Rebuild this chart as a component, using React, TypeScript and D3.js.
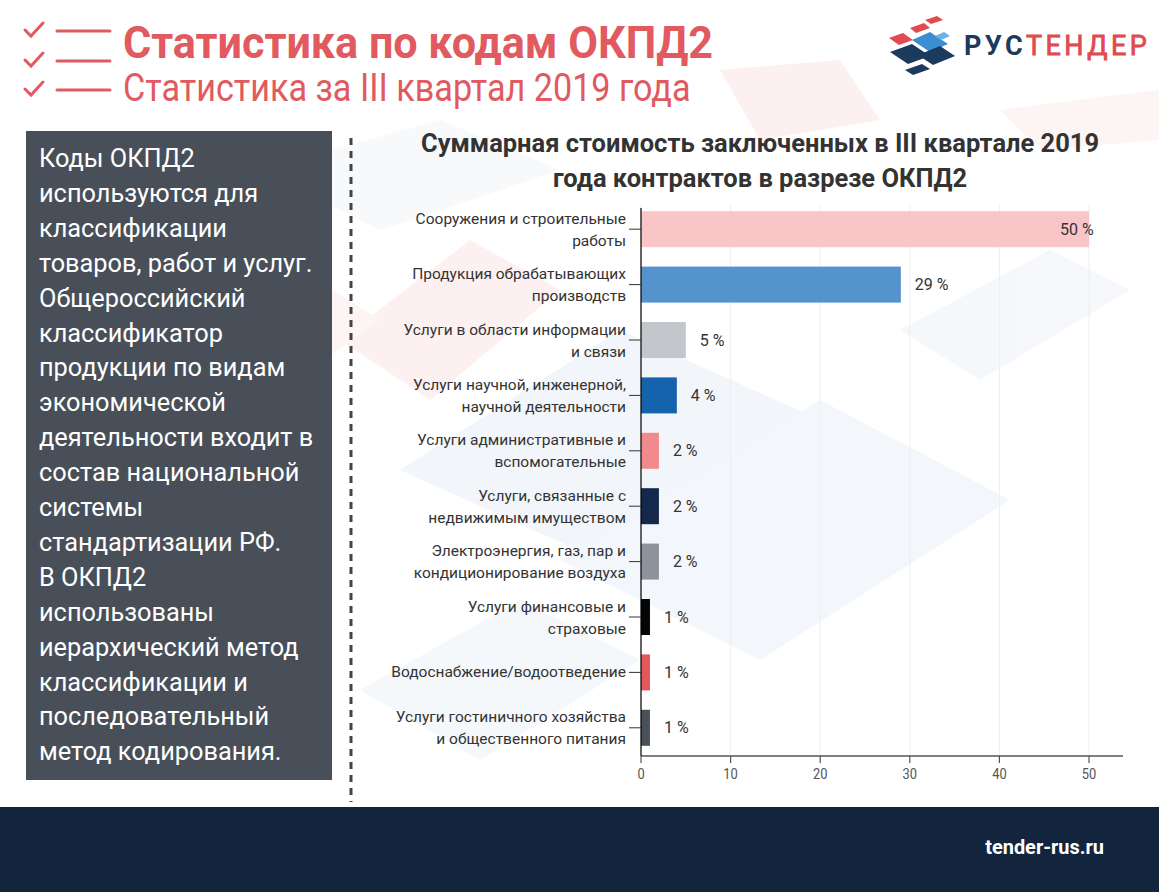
import React from "react";
import * as d3 from "d3";

const categories: string[][] = [
  ["Сооружения и строительные", "работы"],
  ["Продукция обрабатывающих", "производств"],
  ["Услуги в области информации", "и связи"],
  ["Услуги научной, инженерной,", "научной деятельности"],
  ["Услуги административные и", "вспомогательные"],
  ["Услуги, связанные с", "недвижимым имуществом"],
  ["Электроэнергия, газ, пар и", "кондиционирование воздуха"],
  ["Услуги финансовые и", "страховые"],
  ["Водоснабжение/водоотведение"],
  ["Услуги гостиничного хозяйства", "и общественного питания"],
];
const values = [50, 29, 5, 4, 2, 2, 2, 1, 1, 1];
const xTicks = [0, 10, 20, 30, 40, 50];
const palette = ["#f9c5c7", "#5593cd", "#c3c7cc", "#1563ad", "#f28a8d", "#13284a", "#8d939b", "#050505", "#e6575d", "#4a505a"];

const titleMain = "Статистика по кодам ОКПД2";
const titleSub = "Статистика за III квартал 2019 года";
const chartTitle = ["Суммарная стоимость заключенных в III квартале 2019", "года контрактов в разрезе ОКПД2"];
const boxLines = [
  "Коды ОКПД2",
  "используются для",
  "классификации",
  "товаров, работ и услуг.",
  "Общероссийский",
  "классификатор",
  "продукции по видам",
  "экономической",
  "деятельности входит в",
  "состав национальной",
  "системы",
  "стандартизации РФ.",
  "В ОКПД2",
  "использованы",
  "иерархический метод",
  "классификации и",
  "последовательный",
  "метод кодирования.",
];
const footerText = "tender-rus.ru";

const W = 1159, H = 892;
const FONT = "Roboto, 'Noto Sans', sans-serif";

export default function App() {
  const x = d3.scaleLinear().domain([0, 50]).range([641, 1089]);
  const y = d3.scaleBand<number>().domain(d3.range(values.length)).range([201.5, 755.5]).paddingInner(0.35).paddingOuter(0.175);
  const axisY = 756;

  const checks = [31, 61, 90];

  return (
    <svg width={W} height={H} style={{ position: "absolute", left: 0, top: 0, background: "#fff" }} fontFamily={FONT}>
      <rect x={0} y={0} width={W} height={H} fill="#fff" />
      {/* watermark shapes */}
      <g opacity={0.5}>
        <polygon points="340,340 470,240 560,290 430,400" fill="#fde3e4" />
        <polygon points="160,360 300,270 380,320 240,420" fill="#fdeaea" />
        <polygon points="720,70 840,60 880,120 760,140" fill="#fde3e4" />
        <polygon points="1000,110 1159,90 1159,140 1040,150" fill="#fdeaea" />
        <polygon points="400,470 620,330 820,420 600,560" fill="#e6eef6" />
        <polygon points="560,560 820,400 1010,500 760,660" fill="#e8eff7" />
        <polygon points="360,690 520,600 640,660 480,760" fill="#edf2f8" />
        <polygon points="900,330 1050,250 1130,290 980,380" fill="#edf2f8" />
        <polygon points="260,170 440,120 560,170 380,230" fill="#f0f4f9" />
      </g>

      {/* header */}
      {checks.map((cy, i) => (
        <g key={i} stroke="#e05a5f" strokeWidth={3} fill="none" strokeLinecap="round">
          <polyline points={`${25},${cy - 1} ${31},${cy + 5} ${43},${cy - 8}`} />
          <line x1={57} x2={110} y1={cy} y2={cy} />
        </g>
      ))}
      <text transform={`translate(123,58) scale(0.98,1)`} fontSize={44} fontWeight={700} fill="#e05a5f">{titleMain}</text>
      <text transform={`translate(123,101) scale(0.9,1)`} fontSize={38} fill="#e05a5f">{titleSub}</text>

      {/* logo */}
      <g>
        <polygon points="889,38 903,33 913,40 899,45" fill="#e04a50" />
        <polygon points="910,28 924,23 930,28 916,33" fill="#e04a50" />
        <polygon points="925,20 937,16 943,20 931,24" fill="#e04a50" />
        <polygon points="912,40 930,32 948,44 930,52" fill="#3a8fd0" />
        <polygon points="935,36 944,32 950,36 941,40" fill="#6bb3e0" />
        <polygon points="890,52 912,44 930,56 908,64" fill="#1c3a5e" />
        <polygon points="918,55 940,46 955,56 933,65" fill="#1c3a5e" />
        <polygon points="905,70 922,64 930,69 913,75" fill="#1c3a5e" />
        <text x={964} y={55} fontSize={27} fontWeight={700} letterSpacing={3.4} fill="#1c3a5e">РУС<tspan fill="#e04a50" fontWeight={400} stroke="#e04a50" strokeWidth={0.8}>ТЕНДЕР</tspan></text>
      </g>

      {/* left box */}
      <rect x={26} y={131} width={306} height={649} fill="#484f58" />
      {boxLines.map((t, i) => (
        <text key={i} transform={`translate(39,${167 + i * 34.9}) scale(0.975,1)`} fontSize={26} fill="#ffffff">{t}</text>
      ))}

      {/* dashed separator */}
      <line x1={351} x2={351} y1={138} y2={802} stroke="#444" strokeWidth={3} strokeDasharray="7,6" />

      {/* chart title */}
      {chartTitle.map((t, i) => (
        <text key={i} transform={`translate(760,${152 + i * 35}) scale(0.98,1)`} textAnchor="middle" fontSize={26} fontWeight={700} fill="#333">{t}</text>
      ))}

      {/* gridlines */}
      {xTicks.map((t) => (
        <line key={t} x1={x(t)} x2={x(t)} y1={205} y2={axisY} stroke="#eeeeee" strokeWidth={1} />
      ))}

      {/* bars */}
      {values.map((v, i) => {
        const by = y(i)!;
        const bw = y.bandwidth();
        const lx = Math.min(x(v) + 14, 1060);
        return (
          <g key={i}>
            <rect x={x(0)} y={by} width={x(v) - x(0)} height={bw} fill={palette[i]} />
            <text x={lx} y={by + bw / 2 + 5.5} fontSize={16} fill="#333">{`${v} %`}</text>
          </g>
        );
      })}

      {/* y axis */}
      <line x1={641} x2={641} y1={208} y2={axisY} stroke="#000" strokeWidth={1.2} />
      {values.map((_, i) => {
        const cy = y(i)! + y.bandwidth() / 2;
        const lines = categories[i];
        return (
          <g key={i}>
            <line x1={629} x2={641} y1={cy} y2={cy} stroke="#333" strokeWidth={1} />
            {lines.map((l, j) => {
              const yy = lines.length === 1 ? cy + 5 : cy - 5.5 + j * 22;
              return (
                <text key={j} x={626} y={yy} textAnchor="end" fontSize={15.5} fill="#333">{l}</text>
              );
            })}
          </g>
        );
      })}

      {/* x axis */}
      <line x1={641} x2={1123} y1={axisY} y2={axisY} stroke="#000" strokeWidth={1.2} />
      {xTicks.map((t) => (
        <g key={t}>
          <line x1={x(t)} x2={x(t)} y1={axisY} y2={axisY + 7} stroke="#555" strokeWidth={1.2} />
          <text transform={`translate(${x(t)},${axisY + 23}) scale(0.92,1)`} textAnchor="middle" fontSize={14} fill="#555">{t}</text>
        </g>
      ))}

      {/* footer */}
      <rect x={0} y={807} width={W} height={H - 807} fill="#13243d" />
      <text transform={`translate(1104,854) scale(0.95,1)`} textAnchor="end" fontSize={21} fontWeight={700} fill="#fff">{footerText}</text>
    </svg>
  );
}
